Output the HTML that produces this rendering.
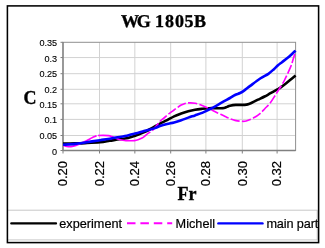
<!DOCTYPE html>
<html><head><meta charset="utf-8"><style>
html,body{margin:0;padding:0;background:#fff;width:325px;height:248px;overflow:hidden}
svg{display:block;will-change:transform}
.g{stroke:#d2d2d2;stroke-width:1}
.t{stroke:#808080;stroke-width:1}
.yl{font-family:"Liberation Sans",sans-serif;font-size:9.1px;fill:#000;stroke:#000;stroke-width:0.12px}
.xl{font-family:"Liberation Sans",sans-serif;font-size:13px;fill:#000;stroke:#000;stroke-width:0.2px}
.ti{font-family:"Liberation Serif",serif;font-weight:bold;font-size:18px;fill:#000;stroke:#000;stroke-width:0.35px}
.lg{font-family:"Liberation Sans",sans-serif;font-size:12.7px;fill:#000;stroke:#000;stroke-width:0.2px}
</style></head><body>
<svg width="325" height="248" viewBox="0 0 325 248">
<rect x="0" y="0" width="325" height="248" fill="#fff"/>
<defs><clipPath id="cc"><rect x="7" y="6" width="312" height="237"/></clipPath></defs>
<g>
<text x="120.9 136.8 155.1 164.9 175.0 184.6 194.0" y="27.0" class="ti" style="text-rendering:geometricPrecision">WG1805B</text>
</g>
<text x="30" y="104" class="ti" text-anchor="middle">C</text>
<text x="187" y="200.3" class="ti" text-anchor="middle">Fr</text>
<line x1="60.5" y1="150.50" x2="63" y2="150.50" class="t"/>
<text x="57.1" y="154.60" class="yl" text-anchor="end">0</text>
<line x1="63" y1="135.50" x2="295.6" y2="135.50" class="g"/>
<line x1="60.5" y1="135.50" x2="63" y2="135.50" class="t"/>
<text x="57.1" y="139.00" class="yl" text-anchor="end">0.05</text>
<line x1="63" y1="119.40" x2="295.6" y2="119.40" class="g"/>
<line x1="60.5" y1="119.40" x2="63" y2="119.40" class="t"/>
<text x="57.1" y="123.05" class="yl" text-anchor="end">0.1</text>
<line x1="63" y1="103.80" x2="295.6" y2="103.80" class="g"/>
<line x1="60.5" y1="103.80" x2="63" y2="103.80" class="t"/>
<text x="57.1" y="108.05" class="yl" text-anchor="end">0.15</text>
<line x1="63" y1="89.30" x2="295.6" y2="89.30" class="g"/>
<line x1="60.5" y1="89.30" x2="63" y2="89.30" class="t"/>
<text x="57.1" y="93.15" class="yl" text-anchor="end">0.2</text>
<line x1="63" y1="73.70" x2="295.6" y2="73.70" class="g"/>
<line x1="60.5" y1="73.70" x2="63" y2="73.70" class="t"/>
<text x="57.1" y="77.25" class="yl" text-anchor="end">0.25</text>
<line x1="63" y1="57.55" x2="295.6" y2="57.55" class="g"/>
<line x1="60.5" y1="57.55" x2="63" y2="57.55" class="t"/>
<text x="57.1" y="61.85" class="yl" text-anchor="end">0.3</text>
<line x1="60.5" y1="42.30" x2="63" y2="42.30" class="t"/>
<text x="57.1" y="45.55" class="yl" text-anchor="end">0.35</text>
<line x1="63.00" y1="150.5" x2="63.00" y2="153.5" class="t"/>
<text transform="translate(67.30,161) rotate(-90)" class="xl" text-anchor="end">0.20</text>
<line x1="99.50" y1="42.3" x2="99.50" y2="150.5" class="g"/>
<line x1="99.50" y1="150.5" x2="99.50" y2="153.5" class="t"/>
<text transform="translate(103.80,161) rotate(-90)" class="xl" text-anchor="end">0.22</text>
<line x1="134.85" y1="42.3" x2="134.85" y2="150.5" class="g"/>
<line x1="134.85" y1="150.5" x2="134.85" y2="153.5" class="t"/>
<text transform="translate(138.90,161) rotate(-90)" class="xl" text-anchor="end">0.24</text>
<line x1="170.70" y1="42.3" x2="170.70" y2="150.5" class="g"/>
<line x1="170.70" y1="150.5" x2="170.70" y2="153.5" class="t"/>
<text transform="translate(175.00,161) rotate(-90)" class="xl" text-anchor="end">0.26</text>
<line x1="205.90" y1="42.3" x2="205.90" y2="150.5" class="g"/>
<line x1="205.90" y1="150.5" x2="205.90" y2="153.5" class="t"/>
<text transform="translate(210.20,161) rotate(-90)" class="xl" text-anchor="end">0.28</text>
<line x1="242.30" y1="42.3" x2="242.30" y2="150.5" class="g"/>
<line x1="242.30" y1="150.5" x2="242.30" y2="153.5" class="t"/>
<text transform="translate(246.60,161) rotate(-90)" class="xl" text-anchor="end">0.30</text>
<line x1="277.10" y1="42.3" x2="277.10" y2="150.5" class="g"/>
<line x1="277.10" y1="150.5" x2="277.10" y2="153.5" class="t"/>
<text transform="translate(281.40,161) rotate(-90)" class="xl" text-anchor="end">0.32</text>
<rect x="63" y="42.3" width="232.6" height="108.2" fill="none" stroke="#909090" stroke-width="1"/>
<line x1="63" y1="42" x2="63" y2="151" stroke="#808080" stroke-width="1.3"/>
<line x1="62.5" y1="150.5" x2="295.6" y2="150.5" stroke="#808080" stroke-width="1.3"/>
<path d="M63.00,143.60 C65.00,143.57 71.33,143.48 75.00,143.40 C78.67,143.32 80.83,143.28 85.00,143.10 C89.17,142.92 95.88,142.68 100.00,142.30 C104.12,141.92 106.47,141.32 109.70,140.80 C112.93,140.28 116.85,139.57 119.40,139.20 C121.95,138.83 122.90,139.02 125.00,138.60 C127.10,138.18 129.65,137.43 132.00,136.70 C134.35,135.97 136.93,135.02 139.10,134.20 C141.27,133.38 143.12,132.67 145.00,131.80 C146.88,130.93 148.73,129.92 150.40,129.00 C152.07,128.08 153.40,127.20 155.00,126.30 C156.60,125.40 157.98,124.62 160.00,123.60 C162.02,122.58 164.75,121.42 167.10,120.20 C169.45,118.98 171.75,117.42 174.10,116.30 C176.45,115.18 178.83,114.35 181.20,113.50 C183.57,112.65 186.00,111.83 188.30,111.20 C190.60,110.57 192.70,110.10 195.00,109.70 C197.30,109.30 199.75,109.05 202.10,108.80 C204.45,108.55 206.75,108.30 209.10,108.20 C211.45,108.10 214.38,108.20 216.20,108.20 C218.02,108.20 218.70,108.23 220.00,108.20 C221.30,108.17 222.83,108.22 224.00,108.00 C225.17,107.78 226.00,107.27 227.00,106.90 C228.00,106.53 228.53,106.13 230.00,105.80 C231.47,105.47 233.97,105.05 235.80,104.90 C237.63,104.75 239.22,104.95 241.00,104.90 C242.78,104.85 245.08,104.80 246.50,104.60 C247.92,104.40 248.53,104.05 249.50,103.70 C250.47,103.35 250.88,103.17 252.30,102.50 C253.72,101.83 255.95,100.70 258.00,99.70 C260.05,98.70 262.52,97.58 264.60,96.50 C266.68,95.42 268.45,94.33 270.50,93.20 C272.55,92.07 275.30,90.58 276.90,89.70 C278.50,88.82 278.55,88.97 280.10,87.90 C281.65,86.83 284.22,84.87 286.20,83.30 C288.18,81.73 290.43,79.80 292.00,78.50 C293.57,77.20 295.00,76.00 295.60,75.50" fill="none" stroke="#000" stroke-width="2.6" stroke-linejoin="round"/>
<path d="M63.00,145.30 C63.67,145.50 65.67,146.28 67.00,146.50 C68.33,146.72 69.50,146.78 71.00,146.60 C72.50,146.42 74.23,146.00 76.00,145.40 C77.77,144.80 79.93,143.75 81.60,143.00 C83.27,142.25 84.57,141.62 86.00,140.90 C87.43,140.18 88.87,139.38 90.20,138.70 C91.53,138.02 92.75,137.32 94.00,136.80 C95.25,136.28 96.20,135.85 97.70,135.60 C99.20,135.35 101.20,135.30 103.00,135.30 C104.80,135.30 107.00,135.38 108.50,135.60 C110.00,135.82 110.67,136.12 112.00,136.60 C113.33,137.08 115.17,137.98 116.50,138.50 C117.83,139.02 118.92,139.40 120.00,139.70 C121.08,140.00 122.00,140.15 123.00,140.30 C124.00,140.45 124.83,140.53 126.00,140.60 C127.17,140.67 128.57,140.70 130.00,140.70 C131.43,140.70 133.27,140.75 134.60,140.60 C135.93,140.45 136.85,140.18 138.00,139.80 C139.15,139.42 140.42,138.88 141.50,138.30 C142.58,137.72 143.47,137.08 144.50,136.30 C145.53,135.52 146.45,134.52 147.70,133.60 C148.95,132.68 150.48,132.18 152.00,130.80 C153.52,129.42 155.40,126.93 156.80,125.30 C158.20,123.67 159.20,122.22 160.40,121.00 C161.60,119.78 162.87,118.95 164.00,118.00 C165.13,117.05 166.18,116.17 167.20,115.30 C168.22,114.43 168.95,113.68 170.10,112.80 C171.25,111.92 172.88,110.87 174.10,110.00 C175.32,109.13 176.22,108.42 177.40,107.60 C178.58,106.78 179.93,105.78 181.20,105.10 C182.47,104.42 183.73,103.87 185.00,103.50 C186.27,103.13 187.08,102.95 188.80,102.90 C190.52,102.85 193.08,102.77 195.30,103.20 C197.52,103.63 199.80,104.58 202.10,105.50 C204.40,106.42 206.75,107.57 209.10,108.70 C211.45,109.83 213.83,111.15 216.20,112.30 C218.57,113.45 221.58,114.78 223.30,115.60 C225.02,116.42 225.33,116.65 226.50,117.20 C227.67,117.75 228.88,118.37 230.30,118.90 C231.72,119.43 233.37,120.03 235.00,120.40 C236.63,120.77 238.23,121.00 240.10,121.10 C241.97,121.20 243.85,121.58 246.20,121.00 C248.55,120.42 251.90,118.83 254.20,117.60 C256.50,116.37 258.20,115.12 260.00,113.60 C261.80,112.08 263.33,110.23 265.00,108.50 C266.67,106.77 268.23,105.50 270.00,103.20 C271.77,100.90 273.70,97.65 275.60,94.70 C277.50,91.75 279.90,87.95 281.40,85.50 C282.90,83.05 283.10,83.02 284.60,80.00 C286.10,76.98 289.00,70.77 290.40,67.40 C291.80,64.03 292.13,62.45 293.00,59.80 C293.87,57.15 295.17,52.88 295.60,51.50" fill="none" stroke="#ff00ff" stroke-width="1.65" stroke-dasharray="36.1,1.5,55.65,2.3,9.2,2.3,9.2,2.3,9.2,2.3,9.2,2.3,9.2,2.3,9.2,2.3,9.2,2.3,9.2,2.3,9.2,2.3,9.2,2.3,9.2,2.3,9.2,2.3,9.2,2.3,9.2,2.3,9.2,2.3,9.2,2.3,9.2,2.3,9.2,2.3,9.2,2.3,400,1"/>
<path d="M63.00,144.80 C65.00,144.65 71.33,144.28 75.00,143.90 C78.67,143.52 80.83,143.12 85.00,142.50 C89.17,141.88 96.17,140.78 100.00,140.20 C103.83,139.62 105.33,139.45 108.00,139.00 C110.67,138.55 113.17,138.00 116.00,137.50 C118.83,137.00 122.33,136.55 125.00,136.00 C127.67,135.45 129.65,134.78 132.00,134.20 C134.35,133.62 136.93,133.07 139.10,132.50 C141.27,131.93 143.12,131.32 145.00,130.80 C146.88,130.28 148.73,129.85 150.40,129.40 C152.07,128.95 153.40,128.67 155.00,128.10 C156.60,127.53 157.98,126.68 160.00,126.00 C162.02,125.32 164.75,124.58 167.10,124.00 C169.45,123.42 171.75,123.12 174.10,122.50 C176.45,121.88 178.83,121.12 181.20,120.30 C183.57,119.48 186.00,118.42 188.30,117.60 C190.60,116.78 192.70,116.18 195.00,115.40 C197.30,114.62 199.75,113.88 202.10,112.90 C204.45,111.92 206.75,110.68 209.10,109.50 C211.45,108.32 213.83,107.10 216.20,105.80 C218.57,104.50 221.00,103.00 223.30,101.70 C225.60,100.40 228.05,99.12 230.00,98.00 C231.95,96.88 233.32,95.83 235.00,95.00 C236.68,94.17 238.58,93.73 240.10,93.00 C241.62,92.27 242.42,91.78 244.10,90.60 C245.78,89.42 247.52,87.92 250.20,85.90 C252.88,83.88 257.17,80.52 260.20,78.50 C263.23,76.48 266.12,75.35 268.40,73.80 C270.68,72.25 272.30,70.62 273.90,69.20 C275.50,67.78 276.65,66.47 278.00,65.30 C279.35,64.13 280.38,63.45 282.00,62.20 C283.62,60.95 285.95,59.25 287.70,57.80 C289.45,56.35 291.18,54.70 292.50,53.50 C293.82,52.30 295.08,51.08 295.60,50.60" fill="none" stroke="#0000ff" stroke-width="2.6" stroke-linejoin="round"/>
<g clip-path="url(#cc)">
<rect x="2" y="210.2" width="315.2" height="29.7" fill="none" stroke="#c8c8c8" stroke-width="1"/>
<line x1="11.3" y1="223.4" x2="56" y2="223.4" stroke="#000" stroke-width="2.3" stroke-linecap="round"/>
<text x="59.3" y="228.1" class="lg">experiment</text>
<line x1="127" y1="223.3" x2="172.2" y2="223.3" stroke="#ff00ff" stroke-width="2.1" stroke-dasharray="8.5,4.9"/>
<text x="175.6" y="228.1" class="lg">Michell</text>
<line x1="218.4" y1="223.4" x2="262.5" y2="223.4" stroke="#0000ff" stroke-width="2.4" stroke-linecap="round"/>
<text x="266.4" y="228.1" class="lg" letter-spacing="-0.12">main part</text>
</g>
<rect x="7.4" y="5.9" width="311.2" height="236.7" fill="none" stroke="#000" stroke-width="1.55"/>
</svg>
</body></html>
